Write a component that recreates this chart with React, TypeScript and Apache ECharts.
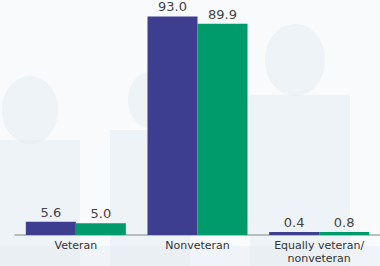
import React, { useEffect, useRef } from "react";
import * as echarts from "echarts";

const categories = ["Veteran", "Nonveteran", "Equally veteran/\nnonveteran"];
const seriesA = [5.6, 93.0, 0.4];
const seriesB = [5.0, 89.9, 0.8];

export default function App() {
  const ref = useRef<HTMLDivElement>(null);
  useEffect(() => {
    if (!ref.current) return;
    const chart = echarts.init(ref.current, null, { renderer: "svg" });
    const sil = "rgba(222,228,237,0.35)";
    chart.setOption({
      animation: false,
      backgroundColor: "#f8fafc",
      graphic: [
        { type: "ellipse", shape: { cx: 30, cy: 110, rx: 28, ry: 34 }, style: { fill: sil }, z: -10 },
        { type: "rect", shape: { x: 0, y: 140, width: 80, height: 126 }, style: { fill: sil }, z: -10 },
        { type: "ellipse", shape: { cx: 150, cy: 100, rx: 22, ry: 28 }, style: { fill: sil }, z: -10 },
        { type: "rect", shape: { x: 110, y: 130, width: 80, height: 136 }, style: { fill: sil }, z: -10 },
        { type: "ellipse", shape: { cx: 295, cy: 60, rx: 30, ry: 36 }, style: { fill: sil }, z: -10 },
        { type: "rect", shape: { x: 250, y: 95, width: 100, height: 171 }, style: { fill: sil }, z: -10 },
        { type: "rect", shape: { x: 0, y: 246, width: 380, height: 20 }, style: { fill: "rgba(228,233,240,0.4)" }, z: -10 },
      ],
      grid: { left: 15, right: -4, top: 0, bottom: 31, containLabel: false },
      xAxis: {
        type: "category",
        data: categories,
        axisTick: { show: false },
        axisLine: { lineStyle: { color: "#a9abae", width: 1.5 } },
        axisLabel: {
          color: "#333",
          fontFamily: "DejaVu Sans",
          fontSize: 11,
          lineHeight: 13,
          margin: 4,
          interval: 0,
        },
      },
      yAxis: { type: "value", min: 0, max: 100, show: false, splitLine: { show: false } },
      series: [
        {
          type: "bar",
          data: seriesA,
          barWidth: 50,
          barGap: "0%",
          barMinHeight: 3,
          itemStyle: { color: "#3e3e90" },
          label: { show: true, position: "top", distance: 3, color: "#444", fontFamily: "DejaVu Sans", fontSize: 13, formatter: (p: any) => p.value.toFixed(1) },
        },
        {
          type: "bar",
          data: seriesB,
          barWidth: 50,
          barGap: "0%",
          barMinHeight: 3,
          itemStyle: { color: "#009b6a" },
          label: { show: true, position: "top", distance: 3, color: "#444", fontFamily: "DejaVu Sans", fontSize: 13, formatter: (p: any) => p.value.toFixed(1) },
        },
      ],
    });
    return () => chart.dispose();
  }, []);
  return <div ref={ref} style={{ position: "absolute", left: 0, top: 0, width: 380, height: 266 }} />;
}
